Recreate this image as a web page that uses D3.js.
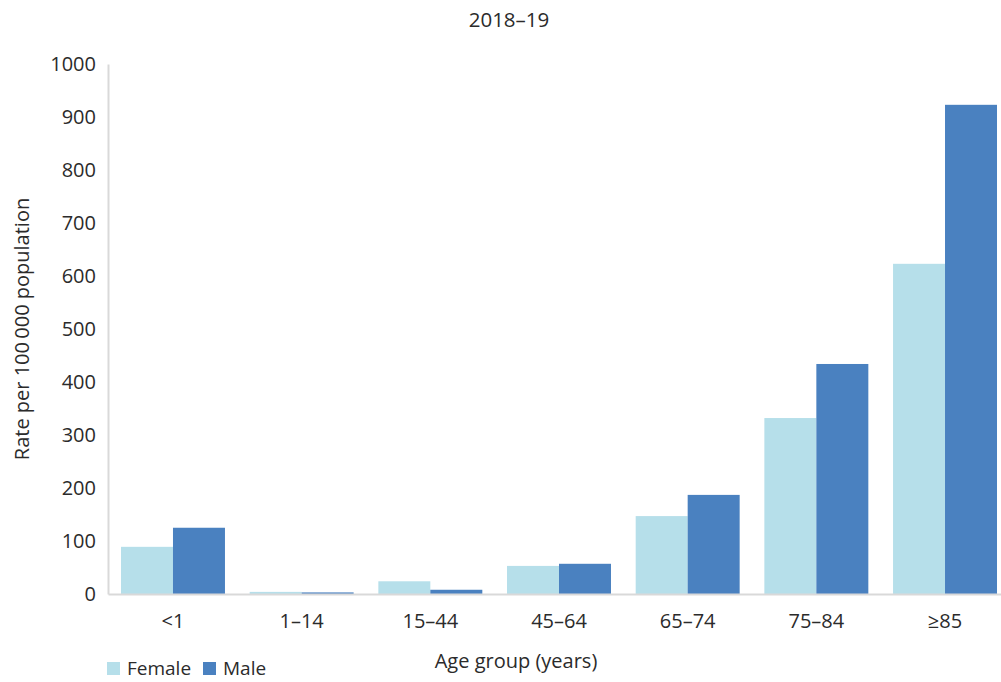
<!DOCTYPE html>
<html lang="en">
<head>
    <meta charset="utf-8">
    <title>Rate by age group</title>
    <script type="text/javascript" src="https://cdn.jsdelivr.net/npm/d3@7"></script>
    <style>
        body { margin: 0; background: #fff; }
        text { font-family: "Open Sans", sans-serif; fill: #2b2b2b; }
    </style>
</head>
<body>
<script type="text/javascript">
    var categories = ["<1", "1\u201314", "15\u201344", "45\u201364", "65\u201374", "75\u201384", "\u226585"];
    var series = ["Female", "Male"];
    var female = [89, 4, 24, 53, 147, 332, 623];
    var male = [125, 3, 8, 57, 187, 434, 923];
    var yTicks = [0, 100, 200, 300, 400, 500, 600, 700, 800, 900, 1000];
    var colors = ["#b6dfea", "#4a81c0"];

    var w = 1001;
    var h = 682;
    // plot box (note: "top" is reserved on window)
    var padL = 108, padR = 1010, padT = 64, padB = 594;

    var dataset = categories.map(function(c, i) {
        return { cat: c, values: [female[i], male[i]] };
    });

    var svg = d3.select("body")
        .append("svg")
        .attr("width", w)
        .attr("height", h);

    var xScale = d3.scaleBand()
        .domain(categories)
        .range([padL, padR])
        .paddingInner(0.192)
        .paddingOuter(0.101);
    var xSub = d3.scaleBand()
        .domain(series)
        .range([0, xScale.bandwidth()]);
    var yScale = d3.scaleLinear()
        .domain([0, 1000])
        .range([padB, padT]);

    // bars
    var groups = svg.selectAll("g.grp")
        .data(dataset)
        .enter()
        .append("g")
        .attr("class", "grp")
        .attr("transform", function(d) { return "translate(" + xScale(d.cat) + ",0)"; });
    groups.selectAll("rect")
        .data(function(d) { return d.values; })
        .enter()
        .append("rect")
        .attr("x", function(d, i) { return xSub(series[i]); })
        .attr("y", function(d) { return yScale(d); })
        .attr("width", xSub.bandwidth())
        .attr("height", function(d) { return padB - yScale(d); })
        .attr("fill", function(d, i) { return colors[i]; });

    // y axis
    var yAxis = d3.axisLeft(yScale).tickValues(yTicks).tickFormat(d3.format("d")).tickSize(0).tickPadding(12);
    var gy = svg.append("g")
        .attr("transform", "translate(" + padL + ",0)")
        .call(yAxis);
    gy.select(".domain").attr("stroke", "#d9d9d9").attr("stroke-width", 2);
    gy.selectAll("text").attr("font-size", "20px").attr("font-family", "Open Sans, sans-serif").attr("fill", "#2b2b2b");

    // x axis
    var xAxis = d3.axisBottom(xScale).tickSize(0).tickPadding(20);
    var gx = svg.append("g")
        .attr("transform", "translate(0," + padB + ")")
        .call(xAxis);
    gx.select(".domain").attr("stroke", "#d9d9d9").attr("stroke-width", 2);
    gx.selectAll("text").attr("font-size", "20px").attr("font-family", "Open Sans, sans-serif").attr("fill", "#2b2b2b");

    // title
    svg.append("text")
        .attr("x", 509)
        .attr("y", 27)
        .attr("text-anchor", "middle")
        .attr("font-size", "20.5px")
        .text("2018\u201319");

    // axis titles
    svg.append("text")
        .attr("transform", "translate(29,329) rotate(-90)")
        .attr("text-anchor", "middle")
        .attr("font-size", "20px")
        .text("Rate per 100\u2009000 population");
    svg.append("text")
        .attr("x", 516)
        .attr("y", 668)
        .attr("text-anchor", "middle")
        .attr("font-size", "20px")
        .text("Age group (years)");

    // legend
    var legX = [107, 203];
    var leg = svg.selectAll("g.leg")
        .data(series)
        .enter()
        .append("g")
        .attr("class", "leg")
        .attr("transform", function(d, i) { return "translate(" + legX[i] + ",662)"; });
    leg.append("rect")
        .attr("width", 13)
        .attr("height", 13)
        .attr("fill", function(d, i) { return colors[i]; });
    leg.append("text")
        .attr("x", 20)
        .attr("y", 13)
        .attr("font-size", "19px")
        .text(function(d) { return d; });
</script>
</body>
</html>
